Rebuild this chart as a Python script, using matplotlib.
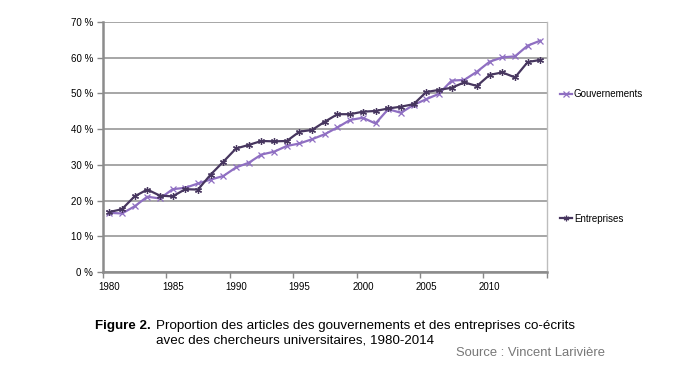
import matplotlib
matplotlib.use("Agg")
import matplotlib.pyplot as plt
from matplotlib.ticker import FixedLocator, FuncFormatter

years = list(range(1980, 2015))
gouvernements = [16.6, 16.4, 18.4, 21.1, 20.6, 23.2, 23.6, 24.8, 25.9, 26.9,
                 29.3, 30.6, 32.9, 33.7, 35.3, 36.0, 37.2, 38.6, 40.5, 42.6,
                 43.2, 41.6, 45.6, 44.6, 46.8, 48.4, 49.9, 53.6, 53.8, 56.1,
                 58.9, 60.1, 60.4, 63.4, 64.8]
entreprises = [16.8, 17.6, 21.2, 23.1, 21.4, 21.2, 23.2, 23.1, 27.3, 30.9,
               34.6, 35.6, 36.7, 36.6, 36.7, 39.3, 39.8, 42.1, 44.2, 44.2,
               44.9, 45.1, 45.8, 46.3, 47.0, 50.4, 51.0, 51.6, 53.1, 52.1,
               55.2, 55.9, 54.5, 58.8, 59.4]
label_years = [1980, 1985, 1990, 1995, 2000, 2005, 2010]
y_ticks = [0, 10, 20, 30, 40, 50, 60, 70]

plt.rcParams['font.family'] = ['Liberation Sans', 'DejaVu Sans']

fig = plt.figure(figsize=(7, 3.8), dpi=100)
ax = fig.add_axes([0.147, 0.284, 0.634, 0.658])

gov_color = '#8f6fc2'
ent_color = '#47365f'

ax.plot(years, gouvernements, color=gov_color, lw=1.6, marker='x', ms=5,
        mew=0.9, label='Gouvernements', zorder=3)
ax.plot(years, entreprises, color=ent_color, lw=1.6, marker=(6, 2, 0), ms=5,
        mew=0.9, label='Entreprises', zorder=4)

ax.set_xlim(years[0] - 0.5, years[-1] + 0.5)
ax.set_ylim(0, 70)

ax.set_yticks(y_ticks)
ax.yaxis.set_major_formatter(FuncFormatter(lambda v, p: f"{int(v)} %"))
ax.yaxis.grid(True, color='#a6a6a6', lw=1.4)
ax.set_axisbelow(True)

# x: boundary ticks, labels at points
ax.xaxis.set_major_locator(FixedLocator([y - 0.5 for y in range(1980, 2016, 5)]))
ax.xaxis.set_major_formatter(FuncFormatter(lambda v, p: ""))
ax.xaxis.set_minor_locator(FixedLocator(label_years))
ax.xaxis.set_minor_formatter(FuncFormatter(lambda v, p: f"{int(v)}"))
ax.tick_params(axis='x', which='minor', length=0, labelsize=7, pad=7, colors='#000000')
ax.tick_params(axis='x', which='major', length=4, width=1, color='#888888', direction='out')
ax.tick_params(axis='y', length=4, width=1, color='#888888', labelsize=7, pad=3)

for s in ['left', 'bottom']:
    ax.spines[s].set_color('#8c8c8c')
    ax.spines[s].set_linewidth(1.8)
ax.spines['right'].set_color('#bdbdbd')
ax.spines['right'].set_linewidth(1.0)
ax.spines['top'].set_visible(False)

# legend entries placed at right
h1, l1 = ax.get_legend_handles_labels()
leg1 = fig.legend([h1[0]], [l1[0]], loc='center left', bbox_to_anchor=(0.795, 0.752),
                  frameon=False, fontsize=7, handlelength=1.2, handletextpad=0.2,
                  borderaxespad=0, markerscale=0.8)
leg2 = fig.legend([h1[1]], [l1[1]], loc='center left', bbox_to_anchor=(0.795, 0.424),
                  frameon=False, fontsize=7, handlelength=1.2, handletextpad=0.2,
                  borderaxespad=0, markerscale=0.8)

fig.text(0.136, 0.143, "Figure 2.", fontsize=9.6, fontweight='bold', va='center')
fig.text(0.223, 0.143, "Proportion des articles des gouvernements et des entreprises co-écrits",
         fontsize=9.6, va='center')
fig.text(0.223, 0.104, "avec des chercheurs universitaires, 1980-2014", fontsize=9.6, va='center')
fig.text(0.865, 0.070, "Source : Vincent Larivière", fontsize=9.4, color='#777777',
         ha='right', va='center')

fig.savefig('out.png', dpi=100)
